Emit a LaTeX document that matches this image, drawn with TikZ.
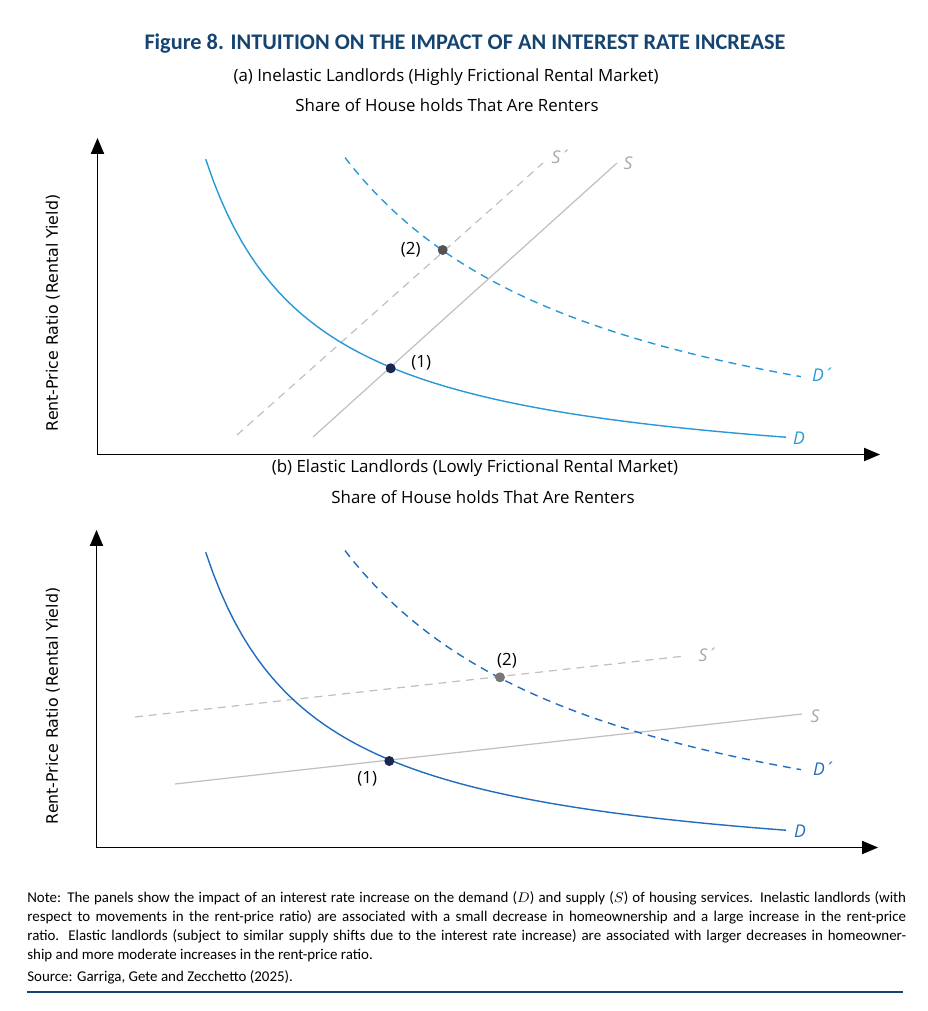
\documentclass[tikz,border=0pt]{standalone}
\usepackage{fontspec}
\setmainfont{Open Sans}
\newfontfamily\notefont{Carlito}
\newfontfamily\axisfont{DejaVu Sans}
\usetikzlibrary{arrows,positioning,calc}

\definecolor{titleblue}{RGB}{22,68,112}
\definecolor{lightblue}{RGB}{40,152,215}
\definecolor{darkblue}{RGB}{34,108,190}
\definecolor{supplygray}{RGB}{192,192,192}
\definecolor{labelgray}{RGB}{168,168,168}
\definecolor{navydot}{RGB}{28,38,82}

\newcommand{\shifted}[1]{#1\kern1.2pt´}

\tikzset{
  axis/.style={line width=1.1pt, triangle 45-triangle 45},
  demand/.style={line width=0.8pt},
  dashes/.style={dash pattern=on 4.5pt off 3.4pt},
  supply/.style={supplygray, line width=0.7pt},
  dot/.style={circle, inner sep=0pt, minimum size=0.2cm},
  numlabel/.style={inner sep=0pt, font=\fontsize{9.6}{11}\selectfont},
  curvelabel/.style={inner sep=0pt, font=\itshape\fontsize{10}{11}\selectfont},
  ylabel/.style={rotate=90, font=\axisfont\fontsize{9}{10}\selectfont},
  subtitle/.style={font=\fontsize{9.6}{11}\selectfont}
}

\begin{document}
\begin{tikzpicture}[x=0.02cm, y=-0.02cm]
    \useasboundingbox (0,0) rectangle (928,1011);

    % titles
    \node[font=\notefont\bfseries\fontsize{12.7}{14}\selectfont, text=titleblue] (title) at (465,44)
        {Figure 8. INTUITION ON THE IMPACT OF AN INTEREST RATE INCREASE};
    \node[subtitle] (subA) at (446,77) {(a) Inelastic Landlords (Highly Frictional Rental Market)};
    \node[subtitle] (xlabA) at (447,105) {Share of House holds That Are Renters};
    \node[subtitle] (subB) at (475,468) {(b) Elastic Landlords (Lowly Frictional Rental Market)};
    \node[subtitle] (xlabB) at (483,497) {Share of House holds That Are Renters};

    % panel (a)
    \coordinate (Oa) at (97.5,454.5);
    \coordinate (Ya) at (97.5,138);
    \coordinate (Xa) at (880,454.5);
    \draw[axis] (Ya) -- (Oa) -- (Xa);
    \node[ylabel] (ylabA) at (53,313) {Rent-Price Ratio (Rental Yield)};

    % supply, old and shifted
    \coordinate (Sa0) at (313,437);
    \coordinate (Sa1) at (617,163);
    \coordinate (Spa0) at (237,435);
    \coordinate (Spa1) at (543,163);
    \draw[supply] (Sa0) -- (Sa1);
    \draw[supply, dashes] (Spa0) -- (Spa1);
    \node[curvelabel, text=labelgray] (SlabA) at (628,163) {S};
    \node[curvelabel, text=labelgray] (SplabA) at (557,157) {\shifted{S}};

    % demand, old and shifted
    \draw[demand, lightblue] plot[domain=205.7:786, samples=80]
        (\x, {489.1-357.3/((\x-97.4)/100)});
    \draw[demand, lightblue, dashes] plot[domain=345:801, samples=80]
        (\x, {505.5-933.39/((\x-76.7)/100)});
    \node[curvelabel, text=lightblue] (DlabA) at (799,438) {D};
    \node[curvelabel, text=lightblue] (DplabA) at (819,375) {\shifted{D}};

    % equilibria
    \node[dot, fill=navydot] (E1a) at (390.7,368.3) {};
    \node[dot, fill=black!67] (E2a) at (442.7,250) {};
    \node[numlabel, right=0.3cm of E1a, yshift=0.1cm] (L1a) {(1)};
    \node[numlabel, left=0.33cm of E2a] (L2a) {(2)};

    % panel (b)
    \begin{scope}[shift={(0,393)}]
        \coordinate (Ob) at (96.5,454.5);
        \coordinate (Yb) at (96.5,137);
        \coordinate (Xb) at (878,454.5);
        \draw[axis] (Yb) -- (Ob) -- (Xb);
        \node[ylabel] (ylabB) at (53,313) {Rent-Price Ratio (Rental Yield)};

        % supply, old and shifted
        \coordinate (Sb0) at (175,391);
        \coordinate (Sb1) at (802,321);
        \coordinate (Spb0) at (135,324);
        \coordinate (Spb1) at (685,263);
        \draw[supply] (Sb0) -- (Sb1);
        \draw[supply, dashes] (Spb0) -- (Spb1);
        \node[curvelabel, text=labelgray] (SlabB) at (815,323) {S};
        \node[curvelabel, text=labelgray] (SplabB) at (704,262) {\shifted{S}};

        % demand, old and shifted
        \draw[demand, darkblue] plot[domain=205.7:786, samples=80]
            (\x, {489.1-357.3/((\x-97.4)/100)});
        \draw[demand, darkblue, dashes] plot[domain=345:801, samples=80]
            (\x, {505.5-933.39/((\x-76.7)/100)});
        \node[curvelabel, text=darkblue] (DlabB) at (800,438) {D};
        \node[curvelabel, text=darkblue] (DplabB) at (820,376) {\shifted{D}};

        % equilibria
        \node[dot, fill=navydot] (E1b) at (389.3,368) {};
        \node[dot, fill=black!53] (E2b) at (500,284.3) {};
        \node[numlabel, below=0.1cm of E1b, xshift=-0.44cm] (L1b) {(1)};
        \node[numlabel, above=0.06cm of E2b, xshift=0.14cm] (L2b) {(2)};
    \end{scope}

    % note and source
    \node[anchor=north west, inner sep=0pt, align=left,
          font=\notefont\fontsize{8.5}{10.8}\selectfont] (note) at (27,891) {%
        \makebox[17.58cm][s]{Note: The panels show the impact of an interest rate increase on the demand ($D$) and supply ($S$) of housing services. Inelastic landlords (with}\\
        \makebox[17.58cm][s]{respect to movements in the rent-price ratio) are associated with a small decrease in homeownership and a large increase in the rent-price}\\
        \makebox[17.58cm][s]{ratio. Elastic landlords (subject to similar supply shifts due to the interest rate increase) are associated with larger decreases in homeowner-}\\
        ship and more moderate increases in the rent-price ratio.};
    \node[anchor=base west, inner sep=0pt, font=\notefont\fontsize{8.5}{10.8}\selectfont] (source) at (27,981)
        {Source: Garriga, Gete and Zecchetto (2025).};
    \draw[titleblue, line width=0.8pt] (27,992) -- (903,992);
\end{tikzpicture}
\end{document}
